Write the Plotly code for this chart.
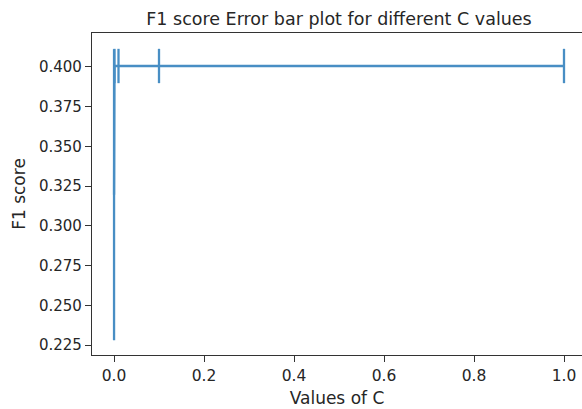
import plotly.graph_objects as go

# Data
c_values = [0.0001, 0.001, 0.01, 0.1, 1.0]
f1_mean = [0.3195, 0.4005, 0.4005, 0.4005, 0.4005]
f1_err = [0.0915, 0.0108, 0.0108, 0.0108, 0.0108]

x_ticks = [0.0, 0.2, 0.4, 0.6, 0.8, 1.0]
y_ticks = [0.225, 0.250, 0.275, 0.300, 0.325, 0.350, 0.375, 0.400]

line_color = "rgb(72,142,196)"
font_color = "#262626"
font_family = "DejaVu Sans"

fig = go.Figure()
fig.add_trace(go.Scatter(
    x=c_values, y=f1_mean, mode="lines",
    line=dict(color=line_color, width=2.3),
    error_y=dict(type="data", array=f1_err, visible=True,
                 color=line_color, thickness=2.3, width=0),
    showlegend=False,
))

fig.update_layout(
    width=582, height=409,
    margin=dict(l=92, r=0, t=33, b=54),
    paper_bgcolor="white", plot_bgcolor="white",
    font=dict(family=font_family, color=font_color, size=15),
    title=dict(text="F1 score Error bar plot for different C values",
               x=(92 + 586) / 2 / 582, xanchor="center",
               y=1 - 19 / 409, yanchor="middle", yref="container",
               font=dict(size=17.5, color=font_color)),
)
fig.update_xaxes(
    range=[-0.0489, 1.04],
    tickvals=x_ticks, ticktext=[f"{v:.1f}" for v in x_ticks],
    showgrid=False, zeroline=False,
    showline=True, linecolor="#333333", linewidth=1.3, mirror=True,
    ticks="outside", ticklen=6, tickcolor="#333333", tickwidth=1.3,
    tickfont=dict(size=15.5),
    title=dict(text="Values of C", font=dict(size=17), standoff=8),
)
fig.update_yaxes(
    range=[0.21875, 0.42125],
    tickvals=y_ticks, ticktext=[f"{v:.3f}" for v in y_ticks],
    showgrid=False, zeroline=False,
    showline=True, linecolor="#333333", linewidth=1.3, mirror=False,
    ticks="outside", ticklen=6, tickcolor="#333333", tickwidth=1.3,
    tickfont=dict(size=15),
    title=dict(text="F1 score", font=dict(size=17), standoff=8),
)

fig.write_html("out.html")
